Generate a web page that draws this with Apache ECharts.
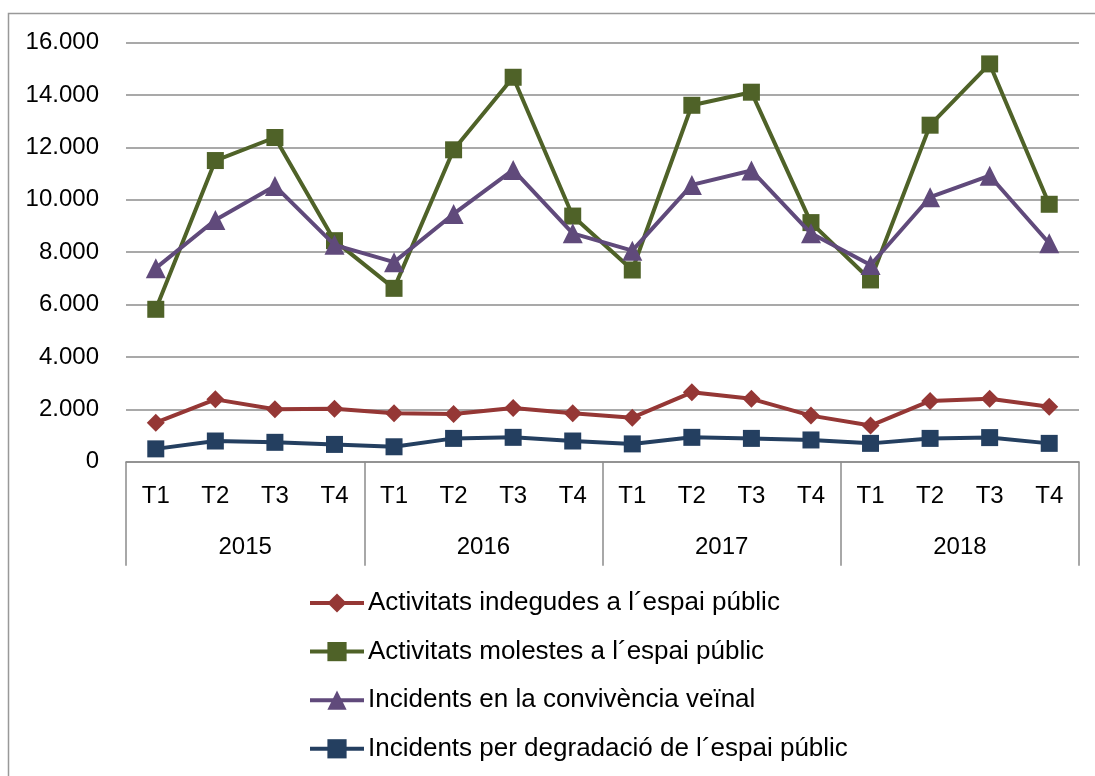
<!DOCTYPE html>
<html><head><meta charset="utf-8">
<script src="https://cdn.jsdelivr.net/npm/echarts@6/dist/echarts.min.js"></script>
<style>html,body{margin:0;padding:0;background:#fff}#c{width:1095px;height:776px}</style>
</head><body><div id="c"></div>
<script>
const quarters = ['T1','T2','T3','T4','T1','T2','T3','T4','T1','T2','T3','T4','T1','T2','T3','T4'];
const years = ['2015','2016','2017','2018'];
const yTicks = [0,2000,4000,6000,8000,10000,12000,14000,16000];
const names = ['Activitats indegudes a l´espai públic','Activitats molestes a l´espai públic','Incidents en la convivència veïnal','Incidents per degradació de l´espai públic'];
const indegudes = [1490,2380,2000,2020,1850,1820,2050,1850,1680,2650,2400,1760,1380,2320,2400,2100];
const molestes = [5820,11500,12380,8440,6620,11910,14680,9380,7320,13610,14110,9130,6940,12850,15190,9830];
const convivencia = [7390,9230,10530,8280,7620,9460,11140,8720,8060,10570,11120,8720,7510,10100,10920,8340];
const degradacio = [490,790,740,660,570,890,930,790,680,930,890,830,700,890,920,700];
const colors = ['#953735','#4F6228','#604A7B','#243F60'];
const FONT = 'Liberation Sans';
function fmt(v){ return String(v).replace(/\B(?=(\d{3})+(?!\d))/g,'.'); }
const chart = echarts.init(document.getElementById('c'));
const data = [indegudes, molestes, convivencia, degradacio];
const symbols = ['diamond','rect','triangle','rect'];
const sizes = [18,17,20,17];
chart.setOption({
  animation:false,
  textStyle:{fontFamily:FONT,color:'#000'},
  graphic:[{type:'rect',shape:{x:8.5,y:13.5,width:1200,height:900},style:{fill:'none',stroke:'#999',lineWidth:1.5},silent:true}],
  grid:{left:126,right:16,top:42.7,bottom:314.3,containLabel:false},
  legend:{orient:'vertical',left:308,top:590,padding:0,itemWidth:54,itemHeight:24,itemGap:22.6,
    lineStyle:{width:4},
    textStyle:{fontFamily:FONT,fontSize:26,color:'#000',lineHeight:24,padding:[0,0,0,-1]},
    data:names},
  xAxis:[
    {type:'category',data:quarters,boundaryGap:true,
     axisLine:{show:true,lineStyle:{color:'#8c8c8c',width:1.5}},
     axisTick:{show:false},splitLine:{show:false},
     axisLabel:{interval:0,margin:23,fontSize:24,color:'#000',fontFamily:FONT}},
    {type:'category',data:years,boundaryGap:true,position:'bottom',
     axisLine:{show:false},
     axisTick:{show:true,length:104,lineStyle:{color:'#8c8c8c',width:1.5}},
     splitLine:{show:false},
     axisLabel:{interval:0,margin:74,fontSize:24,color:'#000',fontFamily:FONT}}
  ],
  yAxis:{type:'value',min:0,max:16000,interval:2000,
    axisLine:{show:false},axisTick:{show:false},
    splitLine:{show:true,lineStyle:{color:'#8c8c8c',width:1.5}},
    axisLabel:{margin:27,fontSize:24,color:'#000',fontFamily:FONT,formatter:fmt}},
  series:names.map((n,i)=>({
    name:n,type:'line',data:data[i],xAxisIndex:0,
    symbol:symbols[i],symbolSize:sizes[i],showAllSymbol:true,
    lineStyle:{color:colors[i],width:4},
    itemStyle:{color:colors[i]},z:2+i
  }))
});
</script></body></html>
